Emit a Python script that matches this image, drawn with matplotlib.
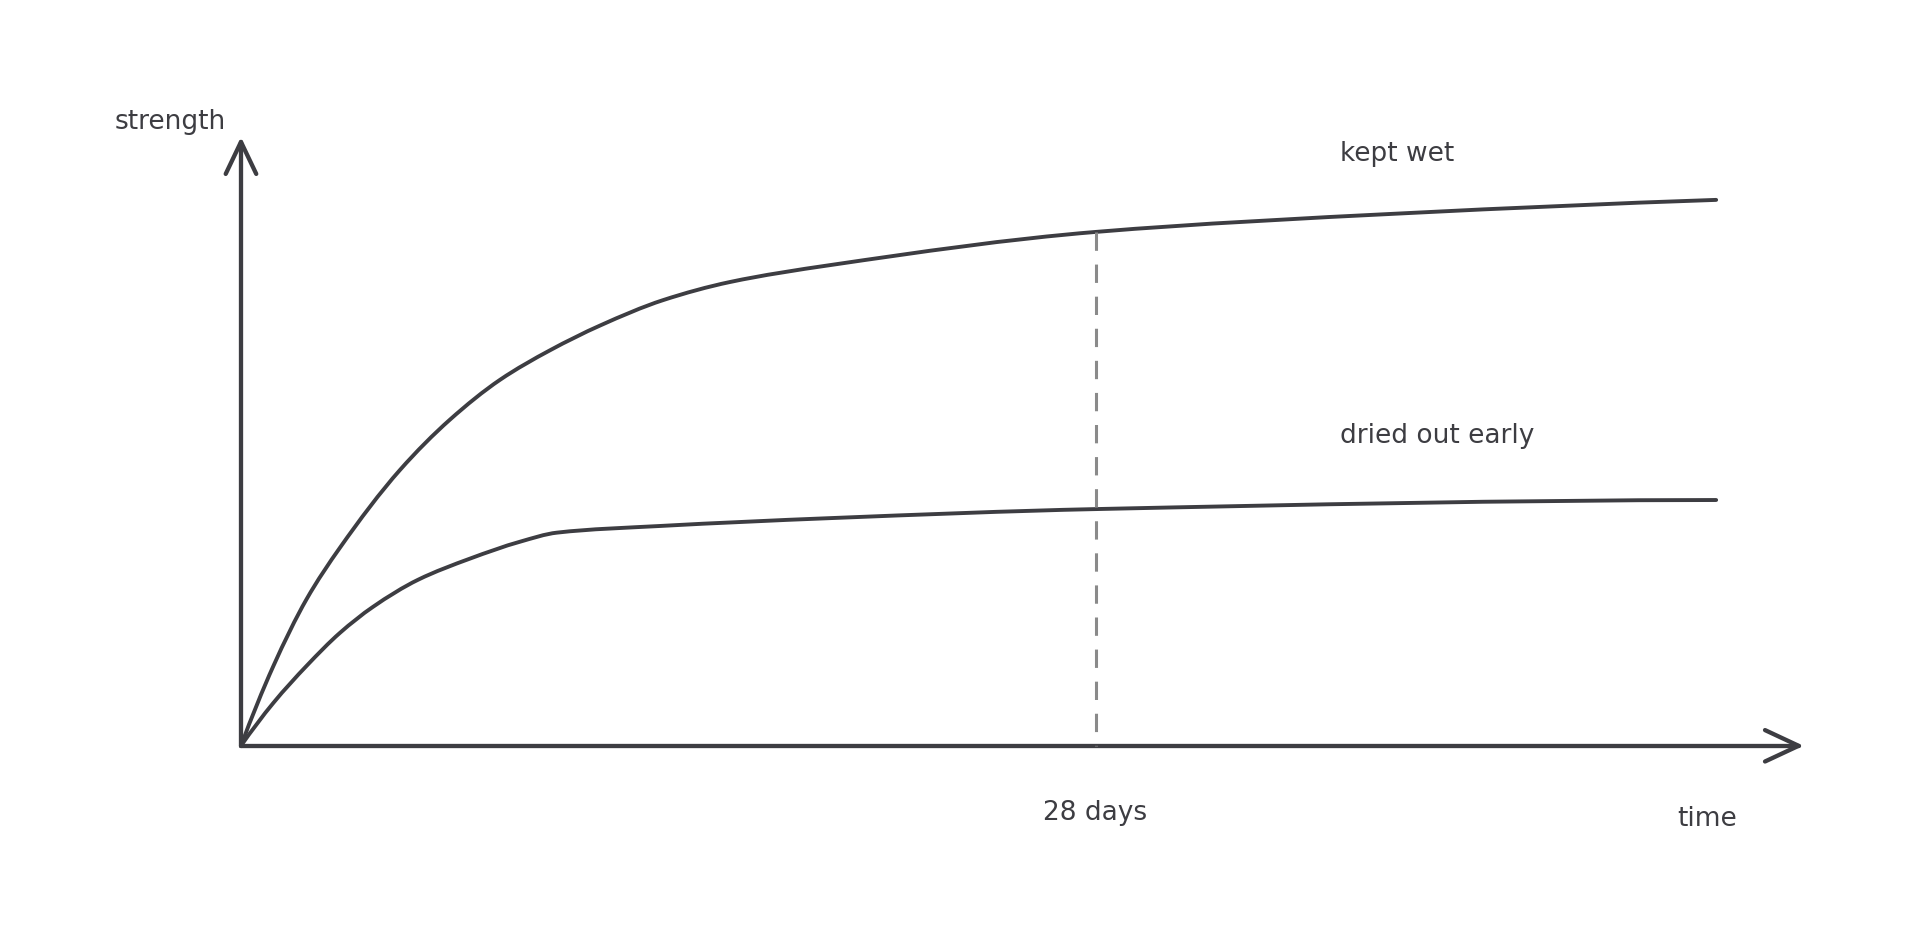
#sketch of concrete strength gain: kept wet vs dried out early
import matplotlib.pyplot as plt
import numpy as np
from matplotlib.path import Path
from matplotlib.patches import PathPatch

# time in days, strength in arbitrary units (0-100 = height of the y axis)
wet_days = [0, 1.06, 2.15, 3.24, 5.21, 6.84, 8.48, 10.12, 11.76, 13.82, 16.01, 19.29, 28, 38.15, 48.3]
wet_strength = [0, 13.2, 24.3, 32.8, 45.7, 54.0, 60.6, 65.5, 69.6, 73.8, 76.8, 79.6, 85.1, 88.2, 90.4]

dry_days = [0, 1.06, 2.16, 3.24, 4.32, 5.8, 7.5, 9.14, 10.35, 13.72, 19.29, 28, 48.3]
dry_strength = [0, 7.1, 13.3, 18.7, 23.0, 27.5, 31.0, 33.8, 35.3, 36.4, 37.7, 39.2, 40.7]

mark_day = 28
mark_label = "28 days"
curve_labels = ["kept wet", "dried out early"]
axis_labels = ["time", "strength"]

ink = "#3d3d42"
font = "DejaVu Sans"


def pchip_slopes(x, y):
    h = np.diff(x)
    d = np.diff(y) / h
    m = np.zeros(len(x))
    for k in range(1, len(x) - 1):
        if d[k - 1] * d[k] > 0:
            w1 = 2 * h[k] + h[k - 1]
            w2 = h[k] + 2 * h[k - 1]
            m[k] = (w1 + w2) / (w1 / d[k - 1] + w2 / d[k])
    for k0, a, b, ha, hb in [(0, d[0], d[1], h[0], h[1]), (-1, d[-1], d[-2], h[-1], h[-2])]:
        e = ((2 * ha + hb) * a - ha * b) / (ha + hb)
        if e * a <= 0:
            e = 0
        elif a * b < 0 and abs(e) > 3 * abs(a):
            e = 3 * a
        m[k0] = e
    return m


def smooth_path(xs, ys):
    # monotone cubic through the read points, drawn as bezier segments
    x = np.asarray(xs, float)
    y = np.asarray(ys, float)
    m = pchip_slopes(x, y)
    verts = [(x[0], y[0])]
    codes = [Path.MOVETO]
    for i in range(len(x) - 1):
        h = x[i + 1] - x[i]
        verts += [(x[i] + h / 3, y[i] + m[i] * h / 3),
                  (x[i + 1] - h / 3, y[i + 1] - m[i + 1] * h / 3),
                  (x[i + 1], y[i + 1])]
        codes += [Path.CURVE4] * 3
    return Path(verts, codes)


fig = plt.figure(figsize=(19.33, 9.33), dpi=100)
ax = fig.add_axes([0, 0, 1, 1])
ax.set_xlim(-7.89, 55.4)
ax.set_ylim(-31.0, 123.5)
ax.axis("off")

# axes with open arrow heads
x_end, y_end = 51.0, 100
ax.plot([0, x_end], [0, 0], color=ink, lw=3.1, solid_capstyle="round")
ax.plot([x_end - 1.1, x_end, x_end - 1.1], [2.6, 0, -2.6], color=ink, lw=3.1,
        solid_capstyle="round", solid_joinstyle="round")
ax.plot([0, 0], [0, y_end], color=ink, lw=3.1, solid_capstyle="round")
ax.plot([-0.5, 0, 0.5], [y_end - 5.3, y_end, y_end - 5.3], color=ink, lw=3.1,
        solid_capstyle="round", solid_joinstyle="round")

# 28 day marker, dashed down from the wet curve
wet_at_mark = np.interp(mark_day, wet_days, wet_strength)
ax.plot([mark_day, mark_day], [wet_at_mark, 0], color="#8a8a8a", lw=2.2,
        dashes=(6, 4.5))

# strength curves
for xs, ys in [(wet_days, wet_strength), (dry_days, dry_strength)]:
    ax.add_patch(PathPatch(smooth_path(xs, ys), fill=False, edgecolor=ink, lw=2.8,
                           capstyle="round", joinstyle="round"))

# labels
ax.text(36.0, 98.0, curve_labels[0], fontsize=19, color=ink, family=font,
        ha="left", va="center")
ax.text(36.0, 51.3, curve_labels[1], fontsize=19, color=ink, family=font,
        ha="left", va="center")
ax.text(mark_day - 0.05, -11.2, mark_label, fontsize=19, color=ink, family=font,
        ha="center", va="center")
ax.text(47.99, -12.1, axis_labels[0], fontsize=19, color=ink, family=font,
        ha="center", va="center")
ax.text(-2.33, 103.3, axis_labels[1], fontsize=19, color=ink, family=font,
        ha="center", va="center")

plt.savefig("out.png", dpi=100)
